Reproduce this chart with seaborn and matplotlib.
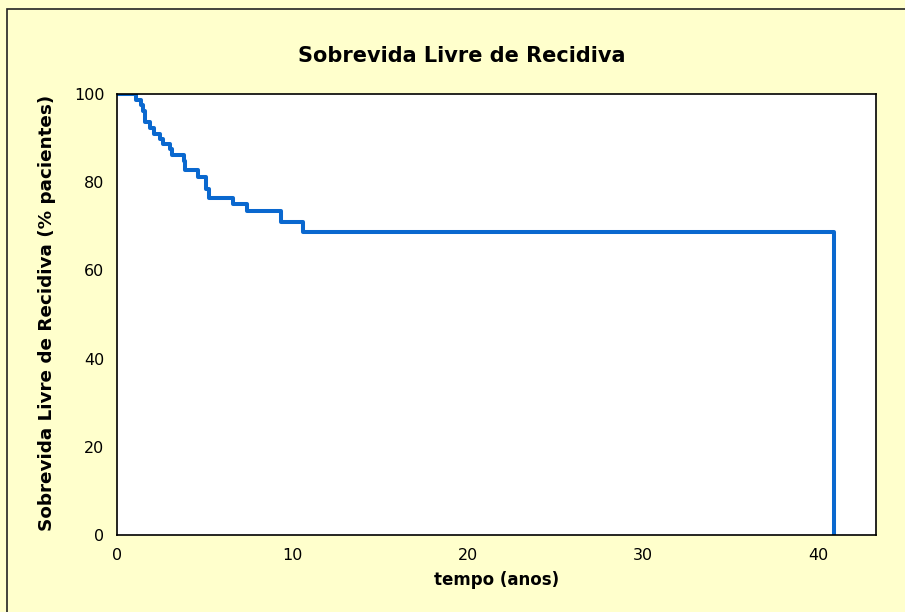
import numpy as np
import pandas as pd
import seaborn as sns
import matplotlib.pyplot as plt
from matplotlib.patches import Rectangle

# Kaplan-Meier style steps
tempo = [0, 1.1, 1.35, 1.5, 1.6, 1.9, 2.1, 2.45, 2.6, 3.0, 3.15, 3.8, 3.9,
         4.6, 5.1, 5.25, 6.6, 7.4, 9.35, 10.6, 40.9, 40.9]
sobrevida = [100, 98.7, 97.4, 96.1, 93.6, 92.4, 91.0, 89.9, 88.6, 87.5, 86.2,
             84.9, 82.7, 81.2, 78.4, 76.5, 75.1, 73.4, 71.0, 68.6, 68.6, 0]
xticks = [0, 10, 20, 30, 40]
yticks = [0, 20, 40, 60, 80, 100]

titulo = 'Sobrevida Livre de Recidiva'
xlabel = 'tempo (anos)'
ylabel = 'Sobrevida Livre de Recidiva (% pacientes)'

df = pd.DataFrame({'tempo': tempo, 'sobrevida': sobrevida})

sns.set_style('white')
plt.rcParams['font.family'] = ['DejaVu Sans']
plt.rcParams['text.color'] = 'black'

fig = plt.figure(figsize=(9.05, 6.12), dpi=100)
fig.patch.set_facecolor('#FFFFCC')
# frame only shows on the top and left edges (cropped picture)
fig.patches.append(Rectangle((7 / 905, -0.05), 1.0, 1 - 9 / 612 + 0.05,
                             transform=fig.transFigure, fill=False,
                             edgecolor='#222222', linewidth=1.2))

ax = fig.add_axes([117 / 905, 1 - 535 / 612, 759 / 905, 441 / 612])
ax.set_facecolor('white')
sns.lineplot(data=df, x='tempo', y='sobrevida', ax=ax, color='#0A68CF',
             linewidth=2.9, drawstyle='steps-post', sort=False, estimator=None)

ax.set_xlim(0, 43.3)
ax.set_ylim(0, 100)
ax.set_xticks(xticks)
ax.set_yticks(yticks)
ax.set_xticklabels([str(t) for t in xticks], fontsize=11.5, color='black')
ax.set_yticklabels([str(t) for t in yticks], fontsize=11.5, color='black')
ax.tick_params(direction='out', length=6, width=1, color='black', pad=3)
for s in ax.spines.values():
    s.set_color('black')
    s.set_linewidth(1.2)

ax.set_xlabel('')
ax.set_ylabel('')
fig.text(462 / 905, 1 - 56 / 612, titulo, ha='center', va='center',
         fontsize=15, fontweight='bold')
fig.text(497 / 905, 1 - 580 / 612, xlabel, ha='center', va='center',
         fontsize=12, fontweight='bold')
fig.text(47 / 905, 1 - 313 / 612, ylabel, ha='center', va='center',
         rotation=90, fontsize=13.2, fontweight='bold')

plt.savefig('out.png', dpi=100, facecolor=fig.get_facecolor())
